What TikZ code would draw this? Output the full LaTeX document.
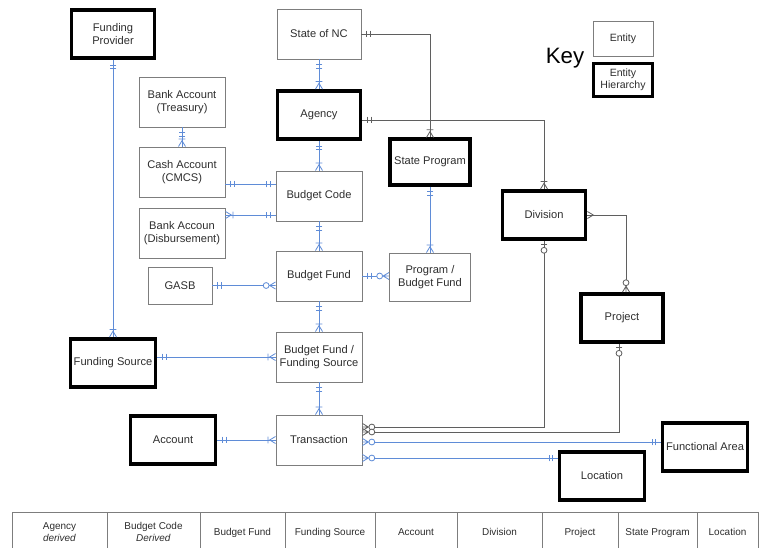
\documentclass[tikz,border=0pt]{standalone}
\usepackage{fontspec}
\setmainfont{Liberation Sans}
\usepackage{xcolor}
\usetikzlibrary{arrows.meta}

\definecolor{erblue}{RGB}{95,140,215}
\definecolor{ergray}{RGB}{95,95,95}
\definecolor{boxgray}{RGB}{125,125,125}
\definecolor{txtgray}{RGB}{45,45,45}

\pgfdeclarearrow{
  name = Onlyone,
  setup code = {
    \pgfarrowssettipend{0pt}
    \pgfarrowssetlineend{0pt}
    \pgfarrowssetbackend{-8pt}
    \pgfarrowssetvisualbackend{-8pt}
    \pgfarrowshullpoint{0pt}{3pt}
    \pgfarrowshullpoint{0pt}{-3pt}
    \pgfarrowshullpoint{-8pt}{3pt}
    \pgfarrowshullpoint{-8pt}{-3pt}
  },
  drawing code = {
    \pgfpathmoveto{\pgfqpoint{-4.5pt}{-2.8pt}}
    \pgfpathlineto{\pgfqpoint{-4.5pt}{2.8pt}}
    \pgfpathmoveto{\pgfqpoint{-7.5pt}{-2.8pt}}
    \pgfpathlineto{\pgfqpoint{-7.5pt}{2.8pt}}
    \pgfusepathqstroke
  }
}
\pgfdeclarearrow{
  name = Oneormany,
  setup code = {
    \pgfarrowssettipend{0pt}
    \pgfarrowssetlineend{0pt}
    \pgfarrowssetbackend{-7pt}
    \pgfarrowssetvisualbackend{-7pt}
    \pgfarrowshullpoint{0pt}{3pt}
    \pgfarrowshullpoint{0pt}{-3pt}
    \pgfarrowshullpoint{-7pt}{3pt}
    \pgfarrowshullpoint{-7pt}{-3pt}
  },
  drawing code = {
    \pgfpathmoveto{\pgfqpoint{0pt}{3pt}}
    \pgfpathlineto{\pgfqpoint{-5pt}{0pt}}
    \pgfpathlineto{\pgfqpoint{0pt}{-3pt}}
    \pgfpathmoveto{\pgfqpoint{-6.5pt}{-2.8pt}}
    \pgfpathlineto{\pgfqpoint{-6.5pt}{2.8pt}}
    \pgfusepathqstroke
  }
}
\pgfdeclarearrow{
  name = Many,
  setup code = {
    \pgfarrowssettipend{0pt}
    \pgfarrowssetlineend{0pt}
    \pgfarrowssetbackend{-5pt}
    \pgfarrowssetvisualbackend{-5pt}
    \pgfarrowshullpoint{0pt}{3pt}
    \pgfarrowshullpoint{0pt}{-3pt}
    \pgfarrowshullpoint{-5pt}{0pt}
  },
  drawing code = {
    \pgfpathmoveto{\pgfqpoint{0pt}{3pt}}
    \pgfpathlineto{\pgfqpoint{-5pt}{0pt}}
    \pgfpathlineto{\pgfqpoint{0pt}{-3pt}}
    \pgfusepathqstroke
  }
}
\pgfdeclarearrow{
  name = Zeroormany,
  setup code = {
    \pgfarrowssettipend{0pt}
    \pgfarrowssetlineend{-10.4pt}
    \pgfarrowssetbackend{-11pt}
    \pgfarrowssetvisualbackend{-11pt}
    \pgfarrowshullpoint{0pt}{3pt}
    \pgfarrowshullpoint{0pt}{-3pt}
    \pgfarrowshullpoint{-11pt}{3pt}
    \pgfarrowshullpoint{-11pt}{-3pt}
  },
  drawing code = {
    \pgfpathmoveto{\pgfqpoint{0pt}{3pt}}
    \pgfpathlineto{\pgfqpoint{-5pt}{0pt}}
    \pgfpathlineto{\pgfqpoint{0pt}{-3pt}}
    \pgfpathmoveto{\pgfqpoint{-5.6pt}{0pt}}
    \pgfpathlineto{\pgfqpoint{0pt}{0pt}}
    \pgfusepathqstroke
    \pgfsetfillcolor{white}
    \pgfpathcircle{\pgfqpoint{-8pt}{0pt}}{2.5pt}
    \pgfusepathqfillstroke
  }
}
\pgfdeclarearrow{
  name = Zeroorone,
  setup code = {
    \pgfarrowssettipend{0pt}
    \pgfarrowssetlineend{-10.4pt}
    \pgfarrowssetbackend{-11pt}
    \pgfarrowssetvisualbackend{-11pt}
    \pgfarrowshullpoint{0pt}{3pt}
    \pgfarrowshullpoint{0pt}{-3pt}
    \pgfarrowshullpoint{-11pt}{3pt}
    \pgfarrowshullpoint{-11pt}{-3pt}
  },
  drawing code = {
    \pgfpathmoveto{\pgfqpoint{-3pt}{-2.8pt}}
    \pgfpathlineto{\pgfqpoint{-3pt}{2.8pt}}
    \pgfpathmoveto{\pgfqpoint{-5.6pt}{0pt}}
    \pgfpathlineto{\pgfqpoint{0pt}{0pt}}
    \pgfusepathqstroke
    \pgfsetfillcolor{white}
    \pgfpathcircle{\pgfqpoint{-8pt}{0pt}}{2.5pt}
    \pgfusepathqfillstroke
  }
}

\tikzset{
  entity/.style={draw=boxgray, line width=0.8pt, inner sep=1pt, align=center,
    text=txtgray, font=\fontsize{9.5}{11.5}\selectfont,
    minimum width=2.58cm, minimum height=1.5cm},
  hierarchy/.style={entity, draw=black, line width=3pt,
    minimum width=2.5cm, minimum height=1.45cm},
  bluelink/.style={draw=erblue, line width=0.7pt},
  graylink/.style={draw=ergray, line width=0.7pt},
  cell/.style={draw=boxgray, line width=0.7pt, align=center, inner sep=0pt,
    text=txtgray, font=\fontsize{8.5}{10}\selectfont, minimum height=1.2cm},
  cellone/.style={cell, text height=1.55ex, text depth=0.45ex}
}

\begin{document}
\begin{tikzpicture}[x=0.03cm,y=-0.03cm]
\useasboundingbox (0,0) rectangle (760,547);

\node[hierarchy] (fp) at (113,34) {Funding\\Provider};
\node[entity, minimum width=2.52cm] (nc) at (319,34) {State of NC};
\node[entity] (tre) at (182,102) {Bank Account\\(Treasury)};
\node[hierarchy] (ag) at (319,115) {Agency};
\node[entity] (ca) at (182,172) {Cash Account\\(CMCS)};
\node[entity] (bc) at (319,196) {Budget Code};
\node[entity] (bd) at (182,233) {Bank Accoun\\(Disbursement)};
\node[entity, minimum width=1.92cm, minimum height=1.11cm] (gasb) at (180,285.5) {GASB};
\node[entity] (bf) at (319,276) {Budget Fund};
\node[hierarchy, minimum width=2.4cm, minimum height=1.37cm] (sp) at (430,162) {State Program};
\node[hierarchy] (dv) at (544,215) {Division};
\node[entity, minimum width=2.43cm, minimum height=1.44cm] (pbf) at (430,277) {Program /\\Budget Fund};
\node[hierarchy, minimum width=2.45cm] (pj) at (622,318) {Project};
\node[hierarchy, minimum width=2.55cm] (fs) at (113,363) {Funding Source};
\node[entity] (bffs) at (319,357) {Budget Fund /\\Funding Source};
\node[hierarchy, minimum width=2.55cm] (ac) at (173,440) {Account};
\node[entity] (tr) at (319,440) {Transaction};
\node[hierarchy, minimum width=2.55cm] (fa) at (705,447) {Functional Area};
\node[hierarchy, minimum width=2.55cm] (lo) at (602,476) {Location};

\node[font=\fontsize{19}{22}\selectfont] (key) at (565,58) {Key};
\node[entity, font=\fontsize{9}{10.5}\selectfont, minimum width=1.8cm, minimum height=1.05cm] (ken) at (623,38.5) {Entity};
\node[hierarchy, font=\fontsize{9}{10.5}\selectfont, minimum width=1.78cm, minimum height=1cm] (keh) at (623,80) {Entity\\Hierarchy};

\draw[bluelink, {Onlyone}-{Oneormany}] (fp.south) -- (fs.north);
\draw[bluelink, {Onlyone}-{Oneormany}] (nc.south) -- (ag.north);
\draw[bluelink, {Onlyone}-{Oneormany}] (tre.south) -- (ca.north);
\draw[bluelink, {Onlyone}-{Oneormany}] (ag.south) -- (bc.north);
\coordinate (cax) at ([yshift=-0.36cm]ca.east);
\draw[bluelink, {Onlyone}-{Onlyone}] (cax) -- (cax -| bc.west);
\coordinate (bdx) at ([yshift=0.54cm]bd.east);
\draw[bluelink, {Oneormany}-{Onlyone}] (bdx) -- (bdx -| bc.west);
\draw[bluelink, {Onlyone}-{Oneormany}] (bc.south) -- (bf.north);
\draw[bluelink, {Onlyone}-{Zeroormany}] (gasb.east) -- (gasb.east -| bf.west);
\draw[bluelink, {Onlyone}-{Zeroormany}] (bf.east) -- (bf.east -| pbf.west);
\draw[bluelink, {Onlyone}-{Oneormany}] (sp.south) -- (pbf.north);
\draw[bluelink, {Onlyone}-{Oneormany}] (bf.south) -- (bffs.north);
\draw[bluelink, {Onlyone}-{Oneormany}] (bffs.west -| fs.east) -- (bffs.west);
\draw[bluelink, {Onlyone}-{Oneormany}] (bffs.south) -- (tr.north);
\draw[bluelink, {Onlyone}-{Oneormany}] (ac.east) -- (tr.west);

\draw[graylink, {Onlyone}-{Oneormany}] (nc.east) -| (sp.north);
\draw[graylink, {Onlyone}-{Oneormany}] ([yshift=-0.15cm]ag.east) -| (dv.north);
\draw[graylink, {Many}-{Zeroormany}] (dv.east) -| ([xshift=0.12cm]pj.north);

\coordinate (t1) at ([yshift=0.39cm]tr.east);
\coordinate (t2) at ([yshift=0.24cm]tr.east);
\coordinate (t3) at ([yshift=-0.06cm]tr.east);
\coordinate (t4) at ([yshift=-0.54cm]tr.east);
\draw[graylink, {Zeroorone}-{Zeroormany}] (dv.south) |- (t1);
\draw[graylink, {Zeroorone}-{Zeroormany}] ([xshift=-0.09cm]pj.south) |- (t2);
\draw[bluelink, {Zeroormany}-{Onlyone}] (t3) -- (t3 -| fa.west);
\draw[bluelink, {Zeroormany}-{Onlyone}] (t4) -- (t4 -| lo.west);

\node[cell, minimum width=2.85cm] (c1) at (59.5,532) {Agency\\\textit{derived}};
\node[cell, minimum width=2.79cm] (c2) at (153.5,532) {Budget Code\\\textit{Derived}};
\node[cellone, minimum width=2.55cm] (c3) at (242.5,532) {Budget Fund};
\node[cellone, minimum width=2.7cm] (c4) at (330,532) {Funding Source};
\node[cellone, minimum width=2.46cm] (c5) at (416,532) {Account};
\node[cellone, minimum width=2.55cm] (c6) at (499.5,532) {Division};
\node[cellone, minimum width=2.28cm] (c7) at (580,532) {Project};
\node[cellone, minimum width=2.37cm] (c8) at (657.5,532) {State Program};
\node[cellone, minimum width=1.83cm] (c9) at (727.5,532) {Location};
\end{tikzpicture}
\end{document}
